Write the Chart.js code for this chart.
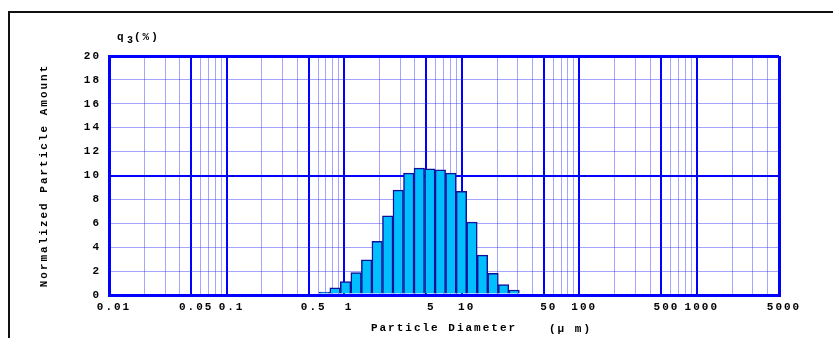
<!DOCTYPE html>
<html>
<head>
<meta charset="utf-8">
<script src="https://cdn.jsdelivr.net/npm/chart.js@4"></script>
<style>
  html, body { margin: 0; padding: 0; background: #fff; }
  canvas { display: block; }
</style>
</head>
<body>
<canvas id="psd" width="833" height="338"></canvas>
<script>
// bin centres (um) and q3 (%)
const diameters = [0.681, 0.837, 1.029, 1.264, 1.554, 1.910, 2.348, 2.885, 3.546, 4.358,
                   5.358, 6.585, 8.094, 9.95, 12.23, 15.03, 18.48, 22.71, 27.91];
const q3 = [0.25, 0.59, 1.12, 1.88, 2.95, 4.49, 6.63, 8.77, 10.2, 10.62,
            10.56, 10.48, 10.2, 8.68, 6.1, 3.34, 1.82, 0.87, 0.42];

const majorTicks = [0.01, 0.05, 0.1, 0.5, 1, 5, 10, 50, 100, 500, 1000, 5000];
const minorTicks = [0.02, 0.03, 0.04, 0.06, 0.07, 0.08, 0.09,
                    0.2, 0.3, 0.4, 0.6, 0.7, 0.8, 0.9,
                    2, 3, 4, 6, 7, 8, 9,
                    20, 30, 40, 60, 70, 80, 90,
                    200, 300, 400, 600, 700, 800, 900,
                    2000, 3000, 4000];

const BLUE = '#0000ff';
const LIGHT = 'rgba(40, 40, 255, 0.42)';
const FONT = 'Liberation Mono, Courier New, monospace';

const spacing = {
  id: 'spacing',
  beforeLayout(chart) { chart.ctx.letterSpacing = '2px'; },
  beforeDraw(chart) {
    const ctx = chart.ctx;
    ctx.letterSpacing = '2px';
    ctx.save();
    ctx.fillStyle = '#fff';
    ctx.fillRect(0, 0, chart.width, chart.height);
    // outer frame
    ctx.strokeStyle = '#111';
    ctx.lineWidth = 2;
    ctx.beginPath();
    ctx.moveTo(9, chart.height);
    ctx.lineTo(9, 12);
    ctx.lineTo(chart.width, 12);
    ctx.stroke();
    ctx.restore();
  },
  afterDraw(chart) {
    const ctx = chart.ctx;
    const a = chart.chartArea;
    ctx.save();
    ctx.fillStyle = '#000';
    ctx.textBaseline = 'alphabetic';
    ctx.letterSpacing = '1px';
    ctx.font = 'bold 11px ' + FONT;
    ctx.fillText('q', a.left + 8, a.top - 16);
    ctx.font = 'bold 10px ' + FONT;
    ctx.fillText('3', a.left + 18, a.top - 13);
    ctx.letterSpacing = '2px';
    ctx.font = 'bold 11px ' + FONT;
    ctx.fillText('(%)', a.left + 25, a.top - 16);
    ctx.fillText('(\u03bc m)', 549, 332);
    ctx.restore();
  }
};

new Chart(document.getElementById('psd'), {
  type: 'bar',
  data: {
    datasets: [{
      data: diameters.map((d, i) => ({ x: d, y: q3[i] })),
      backgroundColor: '#00bfff',
      borderColor: '#10109a',
      borderWidth: 1.5,
      barPercentage: 1,
      categoryPercentage: 1
    }]
  },
  options: {
    responsive: false,
    animation: false,
    layout: { padding: { top: 56, right: 54, left: 0, bottom: 0 } },
    plugins: {
      legend: { display: false },
      tooltip: { enabled: false }
    },
    scales: {
      x: {
        type: 'logarithmic',
        min: 0.01,
        max: 5000,
        offset: false,
        afterBuildTicks: axis => { axis.ticks = majorTicks.map(v => ({ value: v })); },
        afterFit: axis => { axis.height = 43; },
        ticks: {
          autoSkip: false,
          maxRotation: 0,
          padding: 6,
          labelOffset: 5,
          color: '#000',
          font: { family: FONT, size: 11, weight: 'bold' },
          callback: v => String(v)
        },
        grid: {
          offset: false,
          drawTicks: false,
          color: BLUE,
          lineWidth: ctx => (ctx.index === 0 || ctx.index === majorTicks.length - 1) ? 3 : 2
        },
        border: { display: true, color: BLUE, width: 3 },
        title: {
          display: true,
          text: 'Particle Diameter',
          color: '#000',
          font: { family: FONT, size: 11, weight: 'bold' },
          padding: { top: 0, bottom: 3 }
        }
      },
      xMinor: {
        type: 'logarithmic',
        axis: 'x',
        position: 'bottom',
        min: 0.01,
        max: 5000,
        offset: false,
        afterBuildTicks: axis => { axis.ticks = minorTicks.map(v => ({ value: v })); },
        afterFit: axis => { axis.height = 0; },
        ticks: { display: false },
        grid: { offset: false, drawTicks: false, color: LIGHT, lineWidth: 1 },
        border: { display: false }
      },
      y: {
        min: 0,
        max: 20,
        afterFit: axis => { axis.width = 109; },
        ticks: {
          stepSize: 2,
          padding: 8,
          color: '#000',
          font: { family: FONT, size: 11, weight: 'bold' }
        },
        grid: {
          drawTicks: false,
          color: ctx => (ctx.tick.value % 10 === 0) ? BLUE : LIGHT,
          lineWidth: ctx => ctx.tick.value === 10 ? 2 : (ctx.tick.value % 20 === 0 ? 3 : 1)
        },
        border: { display: true, color: BLUE, width: 3 },
        title: {
          display: true,
          text: 'Normalized Particle Amount',
          color: '#000',
          font: { family: FONT, size: 11, weight: 'bold' },
          padding: { top: 38, bottom: 0 }
        }
      }
    }
  },
  plugins: [spacing]
});
</script>
</body>
</html>
